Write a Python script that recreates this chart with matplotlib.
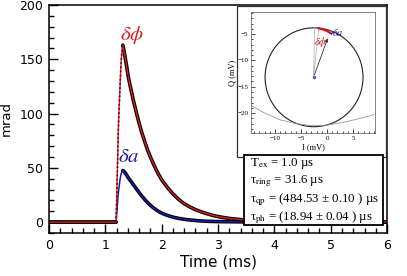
import numpy as np
import matplotlib.pyplot as plt
from matplotlib.patches import Circle, Rectangle
from matplotlib.ticker import MultipleLocator

plt.rcParams['mathtext.fontset'] = 'stix'

# main traces (time in ms, signal in mrad)
t_phi = [0, 0.5, 1.0, 1.19, 1.20, 1.21, 1.22, 1.23, 1.24, 1.25, 1.26, 1.27, 1.28, 1.29,
         1.30, 1.31, 1.32, 1.34, 1.36, 1.38, 1.40, 1.43, 1.46, 1.50, 1.55, 1.60, 1.65,
         1.70, 1.75, 1.80, 1.85, 1.90, 1.95, 2.0, 2.1, 2.2, 2.3,
         2.4, 2.5, 2.6, 2.7, 2.8, 2.9, 3.0, 3.2, 3.4, 3.6, 3.8, 4.0, 4.5, 5.0, 5.5, 6.0]
phi = [0, 0, 0, 0, 18, 40, 62, 84, 100, 112, 124, 137, 147, 155,
       160, 163, 161, 155, 149, 143, 136, 128, 121, 111.5, 101, 91, 82,
       74, 66.5, 60, 54, 48.5, 43.5, 39, 32, 26, 21,
       17, 14, 11.5, 9.5, 7.8, 6.3, 5.1, 3.4, 2.3, 1.5, 1.0, 0.7, 0.3, 0.1, 0.05, 0]

t_amp = [0, 0.5, 1.0, 1.19, 1.20, 1.21, 1.22, 1.23, 1.24, 1.25, 1.26, 1.27, 1.28, 1.29,
         1.30, 1.31, 1.32, 1.34, 1.36, 1.38, 1.40, 1.43, 1.46, 1.50, 1.55, 1.60, 1.65,
         1.70, 1.75, 1.80, 1.85, 1.90, 1.95, 2.0, 2.1, 2.2, 2.3,
         2.4, 2.5, 2.6, 2.7, 2.8, 3.0, 3.5, 4.0, 5.0, 6.0]
amp = [0, 0, 0, 0, 6, 13, 20, 26, 31, 35, 39, 42, 44.5, 46,
       47, 47.5, 47.3, 46.2, 44.8, 43.2, 41.5, 39.3, 37.2, 34.3, 30.8, 27.2, 23.8,
       20.8, 18.0, 15.5, 13.3, 11.4, 9.7, 8.3, 6.2, 4.6, 3.5,
       2.6, 2.0, 1.5, 1.1, 0.8, 0.5, 0.2, 0.1, 0, 0]

# IQ inset (mV)
circ_center = (-2.5, -13.2)
circ_radius = 9.4
arc_I = [-14.5, -12, -9, -6, -3, 0, 3, 6, 9]
arc_Q = [-18.6, -20.0, -21.3, -22.0, -22.4, -22.3, -21.8, -21.1, -20.3]
iq_start = (-2.6, -13.2)
iq_phi_end = (-1.6, -3.9)
iq_amp_end = (0.3, -5.3)
iq_red_arc_I = [-1.6, -0.8, 0.0, 0.8]
iq_red_arc_Q = [-3.9, -4.1, -4.4, -4.9]

fit_text = [r'T$_{\mathrm{ex}}$ = 1.0 µs',
            r'τ$_{\mathrm{ring}}$ = 31.6 µs',
            r'τ$_{\mathrm{qp}}$ = (484.53 ± 0.10 ) µs',
            r'τ$_{\mathrm{ph}}$ = (18.94 ± 0.04 ) µs']

red = '#d81e1e'
blue = '#1a1aa6'

fig = plt.figure(figsize=(4.07, 2.76), dpi=100)
ax = fig.add_axes([0.1204, 0.1558, 0.8306, 0.8262])

t_phi_a = np.array(t_phi)
phi_a = np.array(phi)
t_amp_a = np.array(t_amp)
amp_a = np.array(amp)

# fit lines (black) skip the rising edge
fit_phi = np.where((t_phi_a <= 1.19) | (t_phi_a >= 1.31), phi_a, np.nan)
fit_amp = np.where((t_amp_a <= 1.19) | (t_amp_a >= 1.31), amp_a, np.nan)
ax.plot(t_amp_a, fit_amp, color='k', lw=2.6, solid_capstyle='round', solid_joinstyle='round')
ax.plot(t_amp_a, amp_a, color=blue, lw=1.1, solid_joinstyle='round')
ax.plot(t_phi_a, fit_phi, color='k', lw=2.6, solid_capstyle='round', solid_joinstyle='round')
ax.plot(t_phi_a, phi_a, color=red, lw=1.0, solid_joinstyle='round')
rise = (t_phi_a >= 1.19) & (t_phi_a <= 1.31)
ax.plot(t_phi_a[rise], phi_a[rise], color='#5a0a0a', lw=1.2, ls=(0, (1, 1.5)))

ax.set_xlim(0, 6)
ax.set_ylim(-10, 200)
ax.xaxis.set_major_locator(MultipleLocator(1))
ax.xaxis.set_minor_locator(MultipleLocator(0.2))
ax.yaxis.set_major_locator(MultipleLocator(50))
ax.yaxis.set_minor_locator(MultipleLocator(10))
ax.tick_params(which='both', direction='in', width=1.0, labelsize=9, pad=4)
ax.tick_params(which='major', length=6.5)
ax.tick_params(which='minor', length=3.5)
for s in ax.spines.values():
    s.set_linewidth(1.1)
ax.set_xlabel('Time (ms)', fontsize=11, labelpad=2)
ax.set_ylabel('mrad', fontsize=9.5)
ax.yaxis.set_label_coords(-0.107, 0.5)

ax.text(1.47, 172, r'$\delta\phi$', color=red, fontsize=15, ha='center', va='center')
ax.text(1.42, 61, r'$\delta a$', color=blue, fontsize=15, ha='center', va='center')

# inset frame
fig.patches.append(Rectangle((0.5823, 0.431), 0.366, 0.547, transform=fig.transFigure,
                             facecolor='white', edgecolor='#333333', lw=0.9, zorder=5))
ins = fig.add_axes([0.6167, 0.518, 0.3047, 0.4384], zorder=6)
ins.add_patch(Circle(circ_center, circ_radius, fill=False, ec='#222222', lw=0.8))
ins.plot(arc_I, arc_Q, color='#999999', lw=0.6)
ins.plot([iq_start[0], iq_phi_end[0]], [iq_start[1], iq_phi_end[1]], color='#aaaaaa', lw=0.5)
ins.plot([iq_start[0], -2.4], [iq_start[1], -3.8], color='#aaaaaa', lw=0.5)
ins.annotate('', xy=iq_amp_end, xytext=iq_start,
             arrowprops=dict(arrowstyle='-|>', color='#333333', lw=0.6,
                             mutation_scale=5))
ins.plot(iq_red_arc_I, iq_red_arc_Q, color='#e01010', lw=1.6)
ins.plot([0.8, 1.4], [-4.9, -4.6], color=blue, lw=0.8)
ins.plot(*iq_start, marker='o', ms=1.5, color='#5555cc')
ins.text(-1.3, -6.5, r'$\delta\phi$', color='#e01010', fontsize=7.5, ha='center', va='center')
ins.text(2.1, -4.6, r'$\delta a$', color=blue, fontsize=7.5, ha='center', va='center')
ins.set_xlim(-14.6, 9.2)
ins.set_ylim(-23.8, -0.8)
ins.xaxis.set_major_locator(MultipleLocator(5))
ins.xaxis.set_minor_locator(MultipleLocator(1))
ins.yaxis.set_major_locator(MultipleLocator(5))
ins.yaxis.set_minor_locator(MultipleLocator(1))
ins.tick_params(which='both', direction='in', width=0.5, labelsize=5, pad=2)
ins.tick_params(which='major', length=3)
ins.tick_params(which='minor', length=1.5)
for lab in ins.get_xticklabels() + ins.get_yticklabels():
    lab.set_family('Liberation Serif')
for s in ins.spines.values():
    s.set_linewidth(0.5)
    s.set_color('#555555')
ins.set_xlabel('I (mV)', fontsize=6, family='Liberation Serif', labelpad=2)
ins.set_ylabel('Q (mV)', fontsize=6, family='Liberation Serif', labelpad=1)

# fit parameters box
fig.patches.append(Rectangle((0.5995, 0.1848), 0.3415, 0.2536, transform=fig.transFigure,
                             facecolor='white', edgecolor='black', lw=1.3, zorder=7))
for i, line in enumerate(fit_text):
    fig.text(0.615, 0.408 - i * 0.066, line, fontsize=9.3, family='Liberation Serif',
             va='center', ha='left', zorder=8)

fig.savefig('out.png', dpi=100)
